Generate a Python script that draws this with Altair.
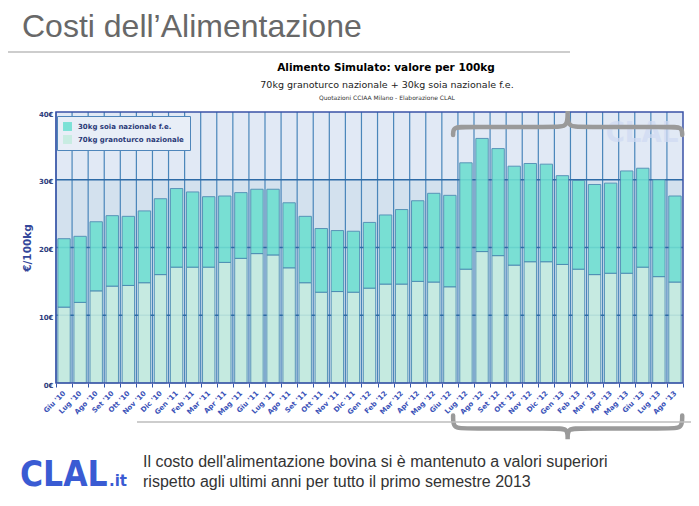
import altair as alt
import pandas as pd

# ---------------- data ----------------
months = ["Giu '10", "Lug '10", "Ago '10", "Set '10", "Ott '10", "Nov '10", "Dic '10",
          "Gen '11", "Feb '11", "Mar '11", "Apr '11", "Mag '11", "Giu '11", "Lug '11",
          "Ago '11", "Set '11", "Ott '11", "Nov '11", "Dic '11",
          "Gen '12", "Feb '12", "Mar '12", "Apr '12", "Mag '12", "Giu '12", "Lug '12",
          "Ago '12", "Set '12", "Ott '12", "Nov '12", "Dic '12",
          "Gen '13", "Feb '13", "Mar '13", "Apr '13", "Mag '13", "Giu '13", "Lug '13", "Ago '13"]

granoturco = [11.2, 11.9, 13.6, 14.3, 14.4, 14.8, 16.0, 17.1, 17.1, 17.1, 17.8, 18.4, 19.1, 18.9,
              17.0, 14.8, 13.4, 13.5, 13.4, 14.0, 14.6, 14.6, 15.0, 14.9, 14.2, 16.8, 19.4, 18.8,
              17.4, 17.9, 17.9, 17.5, 16.8, 16.0, 16.2, 16.2, 17.1, 15.7, 14.9]
soia = [10.1, 9.75, 10.2, 10.4, 10.2, 10.6, 11.2, 11.6, 11.1, 10.4, 9.8, 9.7, 9.5, 9.7,
        9.6, 9.8, 9.4, 9.0, 9.0, 9.7, 10.2, 11.0, 11.9, 13.1, 13.5, 15.7, 16.7, 15.8,
        14.6, 14.5, 14.4, 13.1, 13.1, 13.3, 13.3, 15.1, 14.6, 14.3, 12.7]

series_names = ["30kg soia nazionale f.e.", "70kg granoturco nazionale"]
series_colors = ["#6fdfd1", "#c4ebdf"]

y_ticks = [0, 10, 20, 30, 40]
band_lo = [0, 10, 20, 30]
band_hi = [10, 20, 30, 40]
band_colors = ["#d3e1ee", "#e0e9f4", "#d3e1ee", "#e1e9f5"]
grid_vals = [10, 20, 30]

slide_title = "Costi dell’Alimentazione"
chart_title = "Alimento Simulato: valore per 100kg"
chart_subtitle = "70kg granoturco nazionale + 30kg soia nazionale f.e."
chart_source = "Quotazioni CCIAA Milano - Elaborazione CLAL"
y_title = "€/100kg"
note_lines = ["Il costo dell'alimentazione bovina si è mantenuto a valori superiori",
              "rispetto agli ultimi anni per tutto il primo semestre 2013"]
logo_main = "CLAL"
logo_ext = ".it"

brace_from = "Lug '12"
brace_to = "Ago '13"

# ---------------- layout ----------------
W, H = 627, 271
YDOM = alt.Scale(domain=[0, 40], nice=False, zero=True)
BAND = alt.Scale(type="band", paddingInner=0, paddingOuter=0)
YAX = alt.Axis(values=y_ticks, labelExpr="datum.value + '€'", grid=False, ticks=False,
               domain=False, labelFont="DejaVu Sans", labelFontWeight="bold", title=None,
               labelFontSize=7, labelColor="#2e3d7e", labelPadding=3, labelOffset=2)

rows = []
for i, m in enumerate(months):
    rows.append({"mese": m, "serie": series_names[1], "valore": granoturco[i], "ord": 0})
    rows.append({"mese": m, "serie": series_names[0], "valore": soia[i], "ord": 1})
bars_df = pd.DataFrame(rows)
months_df = pd.DataFrame({"mese": months})

bands = alt.Chart(pd.DataFrame({"lo": band_lo, "hi": band_hi, "col": band_colors})).mark_rect().encode(
    x=alt.value(0), x2=alt.value(W),
    y=alt.Y("lo:Q", scale=YDOM, axis=YAX, title=None), y2="hi:Q",
    color=alt.Color("col:N", scale=None),
)

vgrid = alt.Chart(months_df).mark_rule(color="#4a86ba", strokeWidth=1.2).encode(
    x=alt.X("mese:N", sort=months, scale=BAND, bandPosition=0, axis=None),
    y=alt.value(0), y2=alt.value(H),
)

hgrid = alt.Chart(pd.DataFrame({"v": grid_vals})).mark_rule(color="#2d6aa6", strokeWidth=1.3).encode(
    y=alt.Y("v:Q", scale=YDOM, axis=YAX, title=None),
    x=alt.value(0), x2=alt.value(W),
)

bars = alt.Chart(bars_df).mark_bar(
    width=alt.RelativeBandSize(0.77), stroke="#4b8cb2", strokeWidth=1, opacity=0.9
).encode(
    x=alt.X("mese:N", sort=months, scale=BAND, title=None,
            axis=alt.Axis(labelAngle=315, labelAlign="right", labelBaseline="middle",
                          labelFont="DejaVu Sans", labelFontWeight="bold", labelFontSize=7,
                          labelColor="#3a52b8", tickBand="extent", ticks=True, tickSize=4,
                          tickColor="#3355aa", domain=False, grid=False, labelPadding=5,
                          labelOverlap=False)),
    y=alt.Y("valore:Q", stack="zero", scale=YDOM, title=None, axis=YAX),
    color=alt.Color("serie:N", scale=alt.Scale(domain=series_names, range=series_colors),
                    legend=alt.Legend(title=None, orient="none", legendX=1, legendY=4,
                                      fillColor="#e8eef7", strokeColor="#4f86bb", padding=6,
                                      symbolType="square", symbolSize=80, symbolStrokeWidth=0,
                                      labelFont="DejaVu Sans", labelFontWeight="bold",
                                      labelFontSize=7, labelColor="#2b3a78", rowPadding=4,
                                      labelOffset=6, cornerRadius=0)),
    order=alt.Order("ord:Q"),
)

# braces (annotation over the Lug '12 - Ago '13 period)
def brace_points(x0, x1, y_end, y_bar, y_tip, r=0.75):
    xm = (x0 + x1) / 2
    return [(x0, y_end), (x0, y_bar), (x0 + r, y_bar), (xm - r, y_bar), (xm, y_bar),
            (xm, y_tip), (xm, y_tip), (xm, y_tip), (xm, y_bar), (xm + r, y_bar),
            (x1 - r, y_bar), (x1, y_bar), (x1, y_end)]

bx0 = months.index(brace_from) - 0.3
bx1 = months.index(brace_to) + 1 - 0.05
brows = []
for name, (ye, yb, yt) in {"top": (36.6, 37.8, 40.15), "bottom": (-4.8, -6.7, -8.3)}.items():
    for k, (px, py) in enumerate(brace_points(bx0, bx1, ye, yb, yt)):
        brows.append({"b": name, "x": px, "y": py, "k": k})
braces = alt.Chart(pd.DataFrame(brows)).mark_line(
    interpolate="basis", color="#9a9a9a", strokeWidth=4.5, strokeCap="round"
).encode(
    x=alt.X("x:Q", scale=alt.Scale(domain=[0, len(months)], nice=False, zero=False), axis=None),
    y=alt.Y("y:Q", scale=YDOM, axis=YAX, title=None),
    detail="b:N", order="k:Q",
)

one = alt.Data(values=[{}])

def txt(t, x, y, **kw):
    return alt.Chart(alt.Data(values=[{"t": t}])).mark_text(**kw).encode(
        text="t:N", x=alt.value(x), y=alt.value(y))

def hline(x1, x2, y, **kw):
    return alt.Chart(one).mark_rule(**kw).encode(x=alt.value(x1), x2=alt.value(x2), y=alt.value(y))

border = alt.Chart(one).mark_rect(filled=False, stroke="#3a52a6", strokeWidth=1.5).encode(
    x=alt.value(0), x2=alt.value(W), y=alt.value(0), y2=alt.value(H))

LOGO_FONT = "Liberation Sans Narrow, DejaVu Sans Condensed, Roboto Condensed, Liberation Sans"

layers = [
    bands, vgrid, hgrid,
    txt(logo_main, 586, 21, font=LOGO_FONT, fontWeight="bold", fontSize=29,
        color="#d0dbf3", opacity=0.75, align="center", baseline="middle"),
    bars, border, braces,
    txt(slide_title, -34, -75, font="Liberation Sans", fontSize=32, color="#686868",
        align="left", baseline="alphabetic"),
    hline(-48, 514, -60, color="#bdbdbd", strokeWidth=1.5),
    txt(chart_title, 330, -44, font="DejaVu Sans", fontWeight="bold", fontSize=10.5,
        color="#000000", align="center", baseline="middle"),
    txt(chart_subtitle, 331, -27, font="DejaVu Sans", fontSize=9.5, color="#222222",
        align="center", baseline="middle"),
    txt(chart_source, 331, -14, font="DejaVu Sans", fontSize=6, color="#333333",
        align="center", baseline="middle"),
    txt(y_title, -28, 136, font="DejaVu Sans", fontWeight="bold", fontSize=10.5,
        color="#34479a", angle=270, align="center", baseline="middle"),
    hline(81, 640, 310, color="#bdbdbd", strokeWidth=1.5),
    txt(note_lines[0], 87, 350, font="Liberation Sans", fontSize=16, color="#333333",
        align="left", baseline="middle"),
    txt(note_lines[1], 87, 370, font="Liberation Sans", fontSize=16, color="#333333",
        align="left", baseline="middle"),
    txt(logo_main, -36, 374, font=LOGO_FONT, fontWeight="bold", fontSize=35,
        color="#3a5bd3", align="left", baseline="alphabetic"),
    txt(logo_ext, 53, 374, font="DejaVu Sans", fontWeight="bold", fontSize=15,
        color="#3a5bd3", align="left", baseline="alphabetic"),
]

chart = alt.layer(*layers).resolve_scale(x="independent").properties(
    width=W, height=H,
    autosize=alt.AutoSizeParams(type="none"),
    padding={"left": 48, "top": 104, "right": 8, "bottom": 115},
).configure_view(stroke=None)

chart.save("out.html", embed_options={"renderer": "svg", "actions": False})
